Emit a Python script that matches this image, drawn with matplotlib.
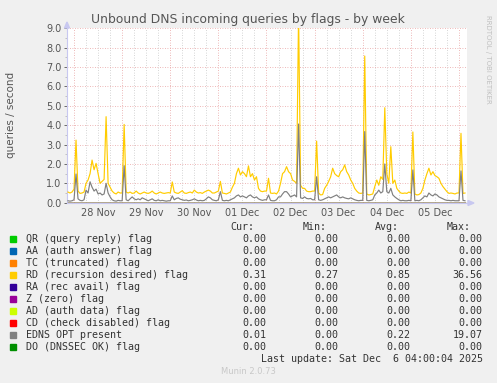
import numpy as np
import matplotlib
matplotlib.use("Agg")
import matplotlib.pyplot as plt
from matplotlib.patches import Rectangle

# ---------------- data ----------------
# hours relative to 28 Nov 00:00 (one sample per hour)
hours = list(range(-3, 196))

rd_pre = [0.55, 0.50, 0.55]
rd_nov28 = [0.70, 3.23, 0.60, 0.48, 0.50, 0.55, 1.00, 1.17, 1.50, 2.20, 1.70, 2.03,
            1.50, 1.00, 1.10, 1.20, 4.44, 1.00, 0.80, 0.60, 0.50, 0.45, 0.55, 0.50]
rd_nov29 = [0.50, 4.04, 0.55, 0.50, 0.55, 0.48, 0.50, 0.60, 0.50, 0.45, 0.50, 0.55,
            0.50, 0.48, 0.52, 0.60, 0.50, 0.45, 0.50, 0.55, 0.50, 0.48, 0.50, 0.52]
rd_nov30 = [0.50, 1.07, 0.55, 0.50, 0.48, 0.55, 0.62, 0.50, 0.48, 0.52, 0.55, 0.50,
            0.65, 0.55, 0.50, 0.52, 0.48, 0.55, 0.60, 0.65, 0.60, 0.50, 0.50, 0.55]
rd_dec01 = [0.60, 1.10, 0.50, 0.48, 0.45, 0.50, 0.55, 0.80, 1.00, 1.50, 1.78, 1.43,
            1.60, 1.50, 1.34, 1.90, 1.34, 1.50, 1.17, 1.34, 0.74, 0.60, 0.57, 0.60]
rd_dec02 = [0.60, 1.26, 0.50, 0.48, 0.50, 0.45, 0.60, 1.00, 1.50, 1.60, 1.86, 1.60,
            1.50, 1.17, 1.10, 1.00, 9.80, 0.90, 0.74, 0.74, 0.60, 0.57, 0.57, 0.60]
rd_dec03 = [0.60, 3.18, 0.50, 0.40, 0.42, 0.74, 0.90, 1.10, 1.34, 1.78, 1.50, 1.40,
            1.34, 1.60, 1.70, 1.95, 1.60, 1.43, 1.17, 1.00, 0.74, 0.60, 0.50, 0.48]
rd_dec04 = [0.50, 7.57, 0.45, 0.40, 0.42, 0.45, 0.83, 1.17, 0.90, 1.34, 1.20, 4.90,
            1.50, 1.00, 2.89, 1.00, 1.17, 0.74, 0.60, 0.50, 0.48, 0.50, 0.48, 0.55]
rd_dec05 = [0.50, 3.65, 0.45, 0.40, 0.42, 0.50, 0.74, 1.17, 1.50, 1.78, 1.43, 1.60,
            1.40, 1.34, 1.26, 1.00, 0.83, 0.70, 0.57, 0.48, 0.50, 0.48, 0.45, 0.50]
rd_dec06 = [0.50, 3.58, 0.48, 0.50]

edns_pre = [0.10, 0.08, 0.10]
edns_nov28 = [0.15, 1.48, 0.20, 0.12, 0.10, 0.15, 0.65, 0.50, 1.08, 0.80, 0.60, 0.70,
              0.45, 0.50, 0.40, 0.45, 1.00, 0.50, 0.30, 0.15, 0.10, 0.08, 0.12, 0.10]
edns_nov29 = [0.10, 1.91, 0.15, 0.10, 0.20, 0.30, 0.20, 0.15, 0.20, 0.15, 0.25, 0.20,
              0.15, 0.10, 0.15, 0.20, 0.12, 0.10, 0.15, 0.10, 0.12, 0.10, 0.08, 0.10]
edns_nov30 = [0.10, 0.35, 0.15, 0.22, 0.25, 0.18, 0.15, 0.12, 0.14, 0.10, 0.12, 0.15,
              0.20, 0.14, 0.10, 0.12, 0.10, 0.12, 0.20, 0.30, 0.25, 0.15, 0.12, 0.10]
edns_dec01 = [0.15, 0.57, 0.12, 0.10, 0.12, 0.10, 0.15, 0.20, 0.25, 0.35, 0.40, 0.30,
              0.35, 0.30, 0.25, 0.35, 0.40, 0.30, 0.25, 0.30, 0.20, 0.15, 0.12, 0.15]
edns_dec02 = [0.15, 0.40, 0.12, 0.10, 0.10, 0.15, 0.30, 0.30, 0.45, 0.57, 0.57, 0.45,
              0.30, 0.35, 0.40, 0.30, 4.06, 0.25, 0.22, 0.30, 0.22, 0.20, 0.22, 0.15]
edns_dec03 = [0.15, 1.34, 0.15, 0.12, 0.15, 0.20, 0.25, 0.30, 0.25, 0.30, 0.35, 0.40,
              0.30, 0.25, 0.30, 0.25, 0.22, 0.20, 0.25, 0.20, 0.15, 0.12, 0.10, 0.12]
edns_dec04 = [0.12, 3.67, 0.12, 0.10, 0.12, 0.15, 0.40, 0.50, 0.65, 0.50, 0.57, 2.00,
              0.57, 0.50, 0.74, 0.40, 0.30, 0.22, 0.15, 0.10, 0.12, 0.10, 0.10, 0.12]
edns_dec05 = [0.10, 1.69, 0.10, 0.12, 0.10, 0.15, 0.25, 0.35, 0.30, 0.50, 0.40, 0.35,
              0.45, 0.40, 0.30, 0.25, 0.20, 0.15, 0.12, 0.12, 0.10, 0.12, 0.10, 0.10]
edns_dec06 = [0.10, 1.64, 0.12, 0.10]

rd_values = (rd_pre + rd_nov28 + rd_nov29 + rd_nov30 + rd_dec01 + rd_dec02
             + rd_dec03 + rd_dec04 + rd_dec05 + rd_dec06)
edns_values = (edns_pre + edns_nov28 + edns_nov29 + edns_nov30 + edns_dec01 + edns_dec02
               + edns_dec03 + edns_dec04 + edns_dec05 + edns_dec06)

series_names = ["QR (query reply) flag", "AA (auth answer) flag", "TC (truncated) flag",
                "RD (recursion desired) flag", "RA (rec avail) flag", "Z (zero) flag",
                "AD (auth data) flag", "CD (check disabled) flag", "EDNS OPT present",
                "DO (DNSSEC OK) flag"]
series_colors = ["#00CC00", "#0066B3", "#FF8000", "#FFCC00", "#330099", "#990099",
                 "#CCFF00", "#FF0000", "#808080", "#008F00"]
cur_vals = ["0.00", "0.00", "0.00", "0.31", "0.00", "0.00", "0.00", "0.00", "0.01", "0.00"]
min_vals = ["0.00", "0.00", "0.00", "0.27", "0.00", "0.00", "0.00", "0.00", "0.00", "0.00"]
avg_vals = ["0.00", "0.00", "0.00", "0.85", "0.00", "0.00", "0.00", "0.00", "0.22", "0.00"]
max_vals = ["0.00", "0.00", "0.00", "36.56", "0.00", "0.00", "0.00", "0.00", "19.07", "0.00"]

day_labels = ["28 Nov", "29 Nov", "30 Nov", "01 Dec", "02 Dec", "03 Dec", "04 Dec", "05 Dec"]
y_ticks = [0, 1, 2, 3, 4, 5, 6, 7, 8, 9]

# ---------------- figure ----------------
W, H = 497, 383
fig = plt.figure(figsize=(W / 100, H / 100), dpi=100, facecolor="#F0F0F0")

def fx(px):
    return px / W

def fy(py):
    return 1 - py / H

ax = fig.add_axes([fx(67), fy(202.7), fx(400), 174.4 / H])
ax.set_facecolor("white")

zero = np.zeros(len(hours))
data_map = {3: rd_values, 8: edns_values}
for i, (name, col) in enumerate(zip(series_names, series_colors)):
    vals = data_map.get(i, zero)
    ax.plot(hours, vals, color=col, lw=0.85, zorder=3 + i * 0.01)

ax.set_xlim(-3.5, 196)
ax.set_ylim(0, 9.0)

# grid
for h in range(-6, 200, 6):
    if -3.5 < h < 196:
        if h % 24 == 0:
            ax.axvline(h, color="#E8A0A0", lw=0.6, ls=(0, (1, 2)), zorder=1)
        else:
            ax.axvline(h, color="#C8C8C8", lw=0.6, ls=(0, (1, 2)), zorder=1)
for v in y_ticks[1:]:
    ax.axhline(v, color="#E8A0A0", lw=0.6, ls=(0, (1, 2)), zorder=1)

ax.set_yticks(y_ticks)
ax.set_yticklabels([f"{v:.1f}" for v in y_ticks])
ax.set_yticks(np.arange(0.5, 9, 1.0), minor=True)
ax.set_xticks([12 + 24 * k for k in range(len(day_labels))])
ax.set_xticklabels(day_labels)
ax.tick_params(axis="both", labelsize=7, colors="#555555", length=2, width=0.6, pad=2)
ax.tick_params(axis="y", which="minor", length=1.5, width=0.6, colors="#BBBBBB")
ax.tick_params(axis="x", length=0, pad=4)
for lbl in ax.get_xticklabels() + ax.get_yticklabels():
    lbl.set_color("#555555")

for s in ["top", "right"]:
    ax.spines[s].set_visible(False)
for s in ["left", "bottom"]:
    ax.spines[s].set_color("#C8C8F0")
    ax.spines[s].set_linewidth(0.8)

# axis arrows
fig.patches.append(plt.Polygon([[fx(64.5), fy(28)], [fx(69.5), fy(28)], [fx(67), fy(22)]],
                               closed=True, color="#C8C8F0", transform=fig.transFigure))
fig.patches.append(plt.Polygon([[fx(468), fy(200.5)], [fx(468), fy(205.5)], [fx(474), fy(203)]],
                               closed=True, color="#C8C8F0", transform=fig.transFigure))

fig.text(fx(11), fy(115), "queries / second", rotation=90, ha="center", va="center",
         fontsize=7.5, color="#555555")

fig.text(fx(248), fy(19), "Unbound DNS incoming queries by flags - by week",
         ha="center", va="center", fontsize=8.9, color="#555555")
fig.text(fx(488), fy(15), "RRDTOOL / TOBI OETIKER", rotation=270, ha="center", va="top",
         fontsize=5, color="#C0C0C0")

# legend
mono = "DejaVu Sans Mono"
fs = 7.2
tcol = "#333333"
headers = ["Cur:", "Min:", "Avg:", "Max:"]
header_x = [230, 303, 375, 447]
for hdr, hx in zip(headers, header_x):
    fig.text(fx(hx), fy(227.3), hdr, ha="left", va="center", fontsize=fs, family=mono, color=tcol)

col_right = [266, 338.7, 410.7, 482.7]
for i, name in enumerate(series_names):
    yy = 239.3 + 12 * i
    fig.patches.append(Rectangle((fx(10), fy(yy + 3)), fx(6), 6 / H, transform=fig.transFigure,
                                 color=series_colors[i]))
    fig.text(fx(26), fy(yy), name, ha="left", va="center", fontsize=fs, family=mono, color=tcol)
    for vals, cx in zip([cur_vals, min_vals, avg_vals, max_vals], col_right):
        fig.text(fx(cx), fy(yy), vals[i], ha="right", va="center", fontsize=fs, family=mono,
                 color=tcol)

fig.text(fx(482.7), fy(359), "Last update: Sat Dec  6 04:00:04 2025", ha="right", va="center",
         fontsize=fs, family=mono, color=tcol)
fig.text(fx(248), fy(372), "Munin 2.0.73", ha="center", va="center", fontsize=6,
         color="#C8C8C8")

fig.savefig("out.png", dpi=100, facecolor=fig.get_facecolor())
